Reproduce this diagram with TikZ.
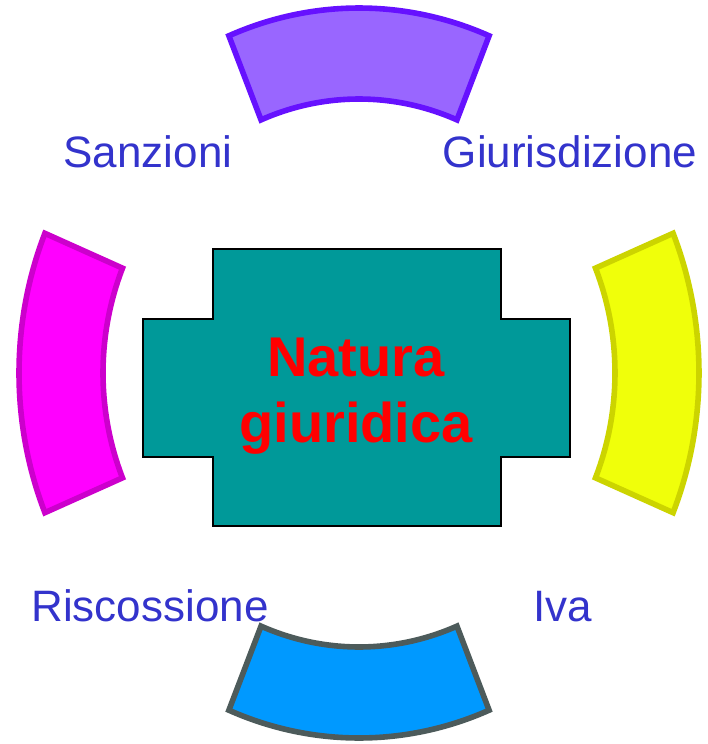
\documentclass[tikz,border=0pt]{standalone}
\usepackage{fontspec}
\setmainfont{Liberation Sans}
\usepackage{xcolor}
\definecolor{violetfill}{HTML}{9966FF}
\definecolor{violetline}{HTML}{6611FF}
\definecolor{magentafill}{HTML}{FF00FF}
\definecolor{magentaline}{HTML}{CC00CC}
\definecolor{yellowfill}{HTML}{F0FF0A}
\definecolor{yellowline}{HTML}{CCD400}
\definecolor{skyfill}{HTML}{0099FF}
\definecolor{skyline}{HTML}{4D5B5B}
\definecolor{tealcore}{HTML}{009999}
\definecolor{labelblue}{HTML}{3333CC}
\usepackage{tikz}

\begin{document}
\begin{tikzpicture}[
  x=0.75pt, y=0.75pt,
  sector/.style={line width=4.2pt, line join=miter},
  core/.style={draw=black, fill=tealcore, line width=1pt},
  tag/.style={font=\fontsize{33}{40}\selectfont, text=labelblue, anchor=base, inner sep=0pt},
  title/.style={font=\bfseries\fontsize{42}{49}\selectfont, text=red, align=center, anchor=base, inner sep=0pt},
]
\useasboundingbox (-359,373) rectangle (349,-371);

% Settori esterni
\draw[sector, draw=violetline, fill=violetfill] (67.5:256 and 274) -- (67.5:340 and 365)
  arc[start angle=67.5, end angle=112.5, x radius=340, y radius=365] -- (112.5:256 and 274)
  arc[start angle=112.5, end angle=67.5, x radius=256, y radius=274] -- cycle;
\draw[sector, draw=magentaline, fill=magentafill] (157.5:256 and 274) -- (157.5:340 and 365)
  arc[start angle=157.5, end angle=202.5, x radius=340, y radius=365] -- (202.5:256 and 274)
  arc[start angle=202.5, end angle=157.5, x radius=256, y radius=274] -- cycle;
\draw[sector, draw=skyline, fill=skyfill] (247.5:256 and 274) -- (247.5:340 and 365)
  arc[start angle=247.5, end angle=292.5, x radius=340, y radius=365] -- (292.5:256 and 274)
  arc[start angle=292.5, end angle=247.5, x radius=256, y radius=274] -- cycle;
\draw[sector, draw=yellowline, fill=yellowfill] (-22.5:256 and 274) -- (-22.5:340 and 365)
  arc[start angle=-22.5, end angle=22.5, x radius=340, y radius=365] -- (22.5:256 and 274)
  arc[start angle=22.5, end angle=-22.5, x radius=256, y radius=274] -- cycle;

% Croce centrale
\draw[core] (-146,124) -- (142,124) -- (142,54) -- (211,54) -- (211,-84) -- (142,-84)
  -- (142,-153) -- (-146,-153) -- (-146,-84) -- (-216,-84) -- (-216,54) -- (-146,54) -- cycle;
\node[title] (natura) at (-3,-69) {Natura\\giuridica};

% Etichette
\node[tag] (sanzioni) at (-211,206) {Sanzioni};
\node[tag] (giurisdizione) at (211,206) {Giurisdizione};
\node[tag] (riscossione) at (-209,-248) {Riscossione};
\node[tag] (iva) at (204,-248) {Iva};

\end{tikzpicture}
\end{document}
